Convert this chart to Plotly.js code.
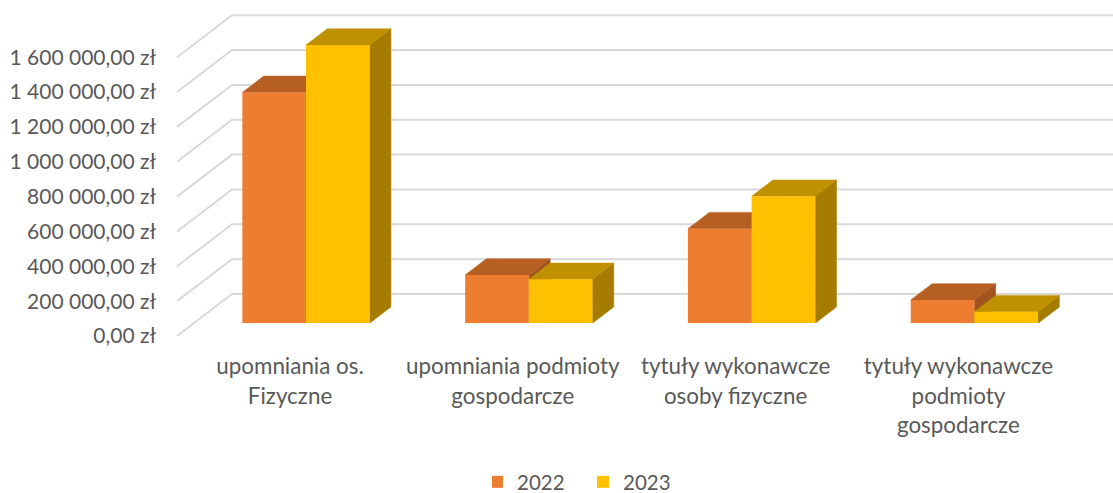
<!DOCTYPE html>
<html>
<head>
<meta charset="utf-8">
<script src="https://cdn.plot.ly/plotly-3.0.1.min.js"></script>
<style>html,body{margin:0;padding:0;background:#fff}#chart{width:1113px;height:493px}</style>
</head>
<body>
<div id="chart"></div>
<script>
const categories = ["upomniania os.<br>Fizyczne", "upomniania podmioty<br>gospodarcze", "tytuły wykonawcze<br>osoby fizyczne", "tytuły wykonawcze<br>podmioty<br>gospodarcze"];
const positions = [0, 1, 2, 3];
const values2022 = [1325000, 277000, 543000, 134000];
const values2023 = [1597000, 252500, 729000, 66600];
const yTicks = [0, 200000, 400000, 600000, 800000, 1000000, 1200000, 1400000, 1600000];
const yTickLabels = ["0,00 zł", "200 000,00 zł", "400 000,00 zł", "600 000,00 zł", "800 000,00 zł", "1 000 000,00 zł", "1 200 000,00 zł", "1 400 000,00 zł", "1 600 000,00 zł"];

const W = 1113, H = 493, L = 165, BOTTOM = 336;
const catPx = 222.8, cat0Px = 306, valuePerPx = 200000 / 34.85;
const barW = 63.65 / catPx, depthX = 21.3 / catPx, depthY = 16.3 * valuePerPx;
const wallFront = (177 - cat0Px) / catPx, wallBack = (232 - cat0Px) / catPx;
const wallDepth = 42 * valuePerPx;
const xMin = (L - cat0Px) / catPx, xMax = (W - cat0Px) / catPx;
const textCol = "#595959", font = "Lato, Carlito, Calibri, sans-serif";

const traces = [];
const gx = [], gy = [];
yTicks.forEach(v => {
  gx.push(wallFront, wallBack, xMax, null);
  gy.push(v, v + wallDepth, v + wallDepth, null);
});
traces.push({type: "scatter", mode: "lines", x: gx, y: gy, xaxis: "x", yaxis: "y",
  line: {color: "#D9D9D9", width: 2}, hoverinfo: "skip", showlegend: false});

function poly(xs, ys, col) {
  traces.push({type: "scatter", mode: "lines", x: xs, y: ys, xaxis: "x", yaxis: "y2",
    fill: "toself", fillcolor: col, line: {color: col, width: 0.5}, hoverinfo: "skip", showlegend: false});
}
function faces(values, off, sideCol, topCol) {
  positions.forEach((p, i) => {
    const v = values[i];
    const x0 = p + off * barW, x1 = x0 + barW;
    poly([x1, x1 + depthX, x1 + depthX, x1, x1], [0, depthY, v + depthY, v, 0], sideCol);
    poly([x0, x1, x1 + depthX, x0 + depthX, x0], [v, v, v + depthY, v + depthY, v], topCol);
  });
}
faces(values2022, -1, "#A0541F", "#B65F22");
faces(values2023, 0, "#A67C00", "#BF9000");

traces.push({type: "bar", name: "2022", x: positions, y: values2022, xaxis: "x", yaxis: "y3",
  marker: {color: "#ED7D31"}, hoverinfo: "x+y"});
traces.push({type: "bar", name: "2023", x: positions, y: values2023, xaxis: "x", yaxis: "y3",
  marker: {color: "#FFC000"}, hoverinfo: "x+y"});

const barDomain = [(BOTTOM - 323.3) / BOTTOM, 1];
const barRange = [0, 323.3 * valuePerPx];
const layout = {
  width: W, height: H,
  margin: {l: L, r: 0, t: 0, b: H - BOTTOM, pad: 0, autoexpand: false},
  paper_bgcolor: "#fff", plot_bgcolor: "rgba(0,0,0,0)",
  barmode: "group", bargap: 1 - 2 * barW, bargroupgap: 0,
  font: {family: font, color: textCol, size: 21},
  showlegend: true,
  legend: {orientation: "h", x: (492 - L) / (W - L), xanchor: "left", y: -(462 - BOTTOM) / BOTTOM, yanchor: "top", yref: "paper",
    font: {family: font, size: 20.5, color: textCol}, indentation: -15, traceorder: "normal",
    entrywidth: 76, entrywidthmode: "pixels", bgcolor: "rgba(0,0,0,0)"},
  xaxis: {range: [xMin, xMax], domain: [0, 1], anchor: "y", tickmode: "array",
    tickvals: positions.map(p => p - 16 / catPx), ticktext: categories, tickangle: 0,
    showgrid: false, zeroline: false, showline: false, ticks: "", ticklabelstandoff: 15,
    tickfont: {family: font, size: 22.4, color: textCol}, fixedrange: true},
  yaxis: {range: [0, BOTTOM * valuePerPx], domain: [0, 1], anchor: "x", tickmode: "array",
    tickvals: yTicks, ticktext: yTickLabels, showgrid: false, zeroline: false, showline: false,
    ticks: "", ticklabelstandoff: 8, tickfont: {family: font, size: 21, color: textCol}, fixedrange: true},
  yaxis2: {range: barRange, domain: barDomain, anchor: "x", visible: false, fixedrange: true},
  yaxis3: {range: barRange, domain: barDomain, anchor: "x", visible: false, fixedrange: true}
};
Plotly.newPlot("chart", traces, layout, {displayModeBar: false, responsive: false});
</script>
</body>
</html>
